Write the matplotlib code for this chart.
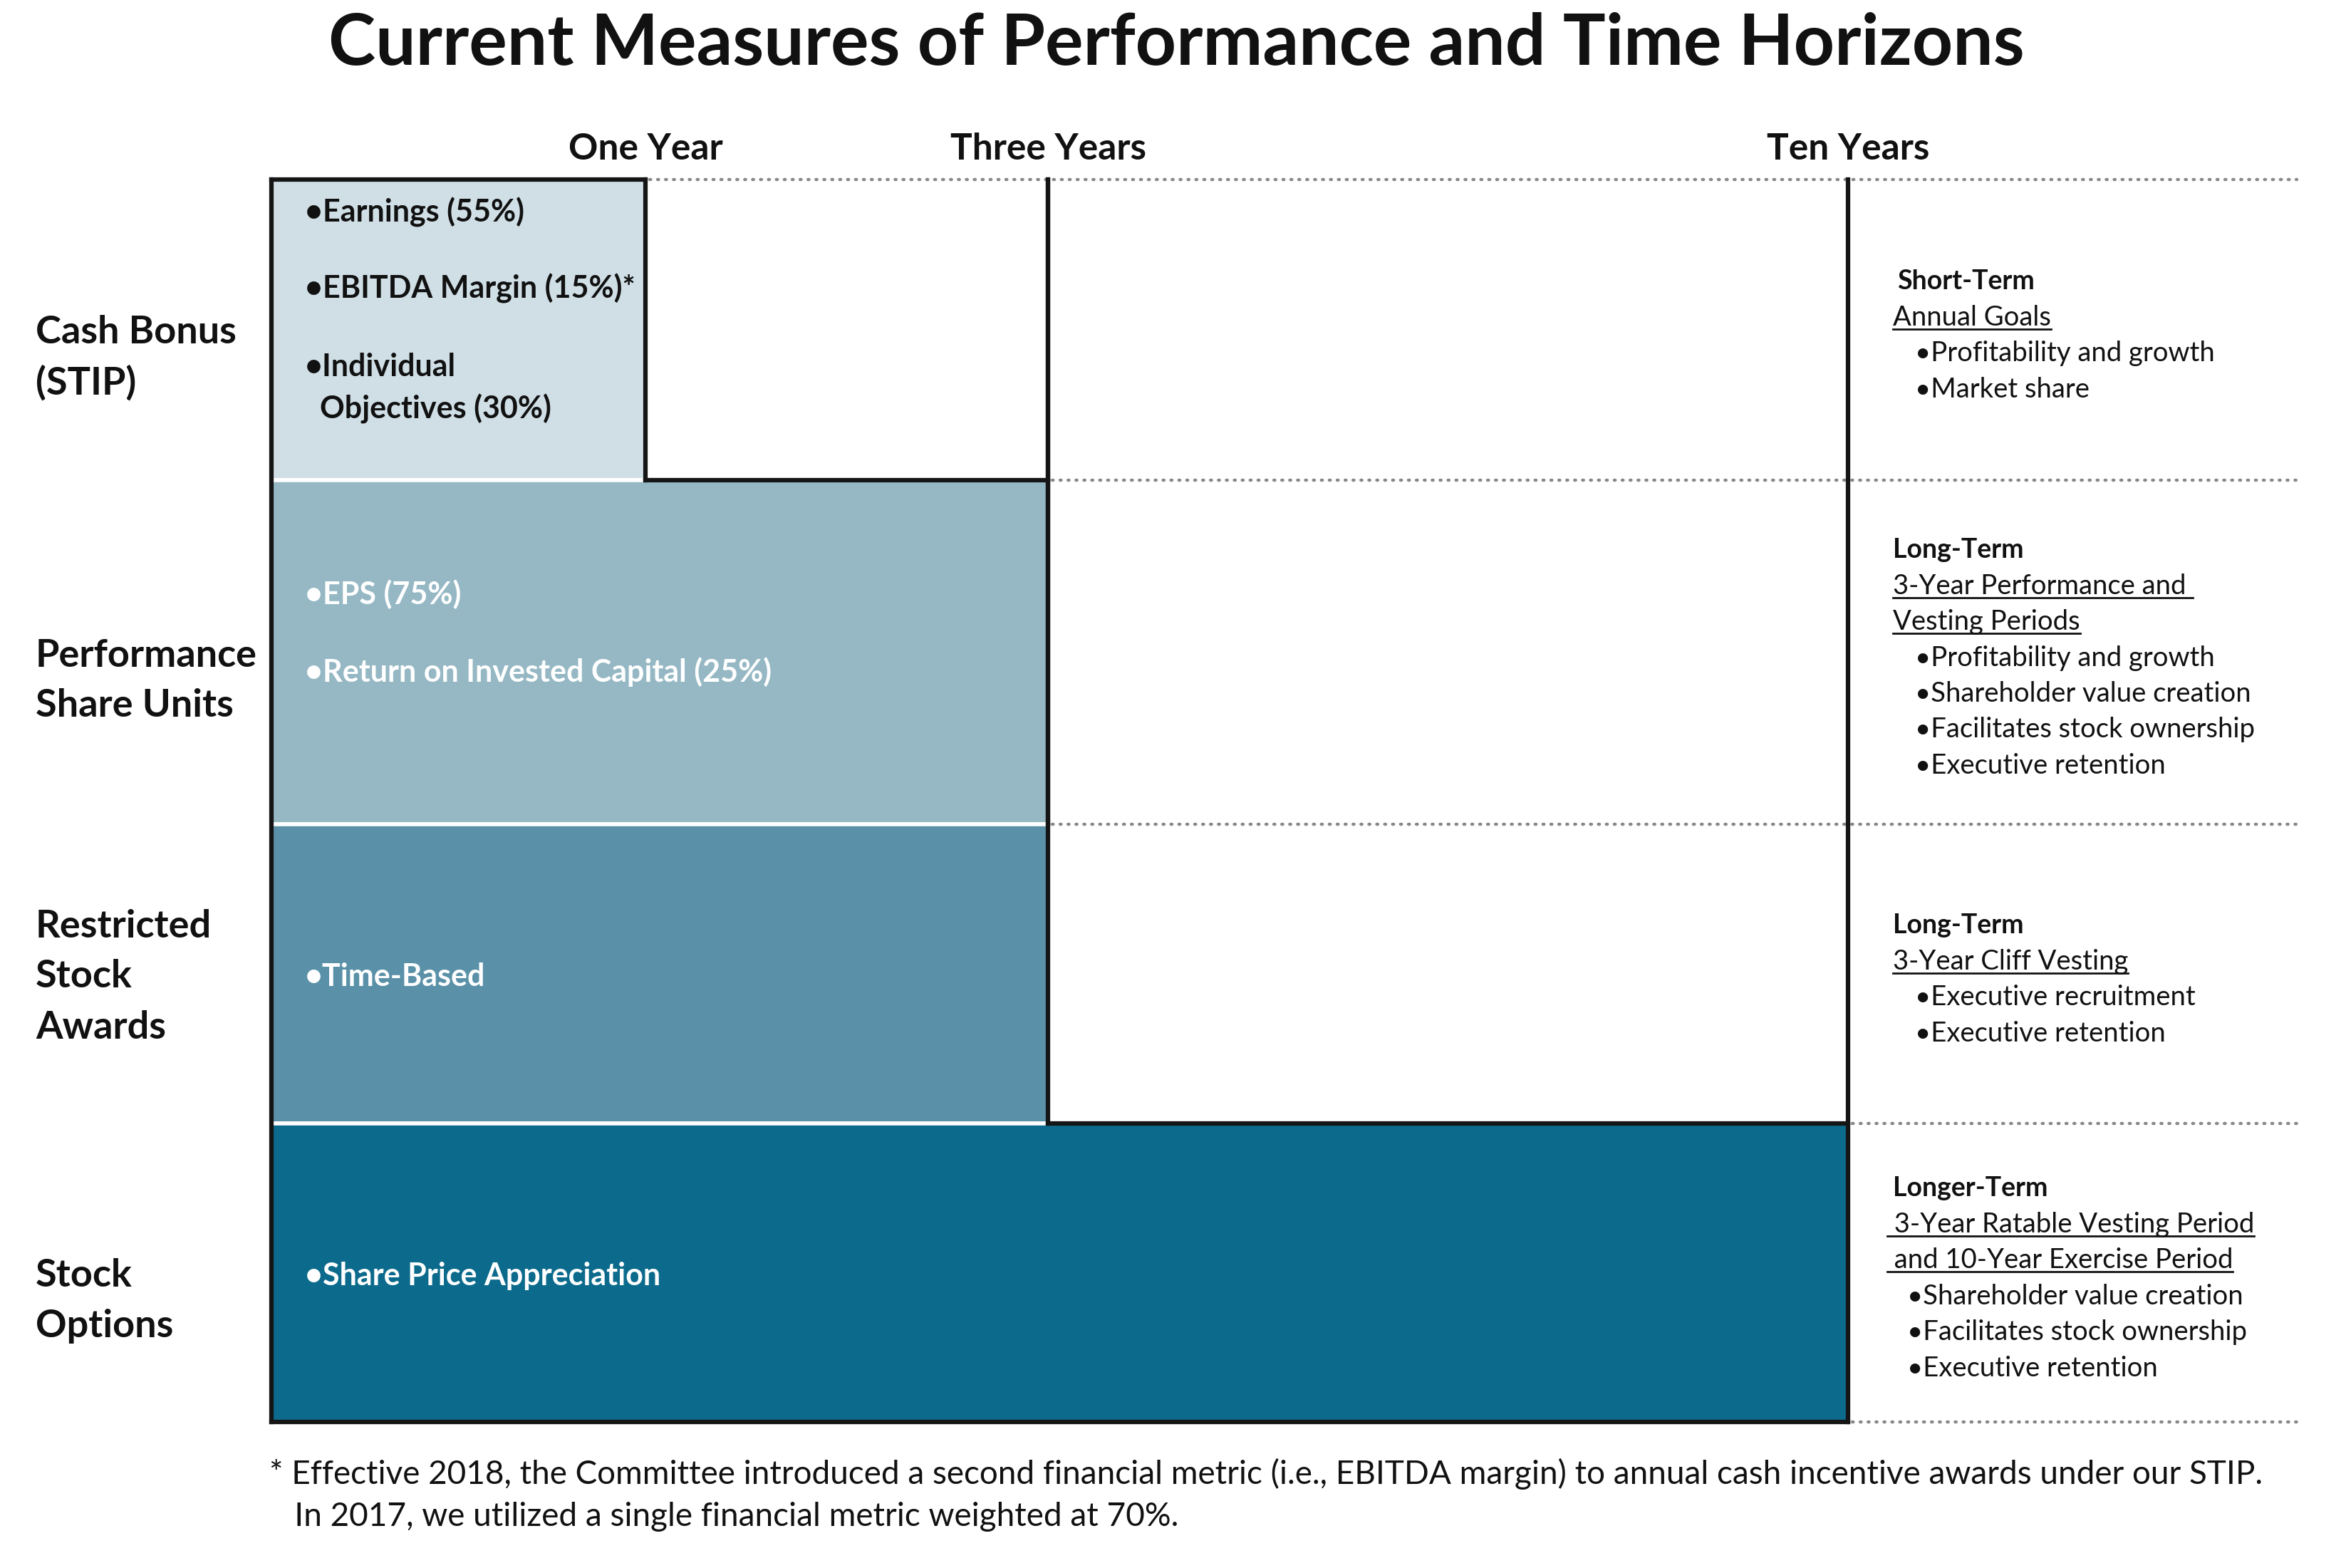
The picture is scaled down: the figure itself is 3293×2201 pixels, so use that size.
import matplotlib
matplotlib.use('Agg')
import matplotlib.pyplot as plt

# ---- data ----
title = "Current Measures of Performance and Time Horizons"
horizons = ['One Year', 'Three Years', 'Ten Years']
awards = ['Cash Bonus\n(STIP)', 'Performance\nShare Units',
          'Restricted\nStock\nAwards', 'Stock\nOptions']
award_end = [1, 2, 2, 3]          # horizon reached by each award (index into column edges)
award_colors = ['#d0dfe6', '#95b8c4', '#5a91a8', '#0c6b8c']
award_text_colors = ['#111111', 'white', 'white', 'white']
measures = [
    ['\u2022Earnings (55%)', '\u2022EBITDA Margin (15%)*', '\u2022Individual', '  Objectives (30%)'],
    ['\u2022EPS (75%)', '\u2022Return on Invested Capital (25%)'],
    ['\u2022Time-Based'],
    ['\u2022Share Price Appreciation'],
]
term_heads = ['Short-Term', 'Long-Term', 'Long-Term', 'Longer-Term']
term_periods = [
    ['Annual Goals'],
    ['3-Year Performance and ', 'Vesting Periods'],
    ['3-Year Cliff Vesting'],
    [' 3-Year Ratable Vesting Period', ' and 10-Year Exercise Period'],
]
term_bullets = [
    ['Profitability and growth', 'Market share'],
    ['Profitability and growth', 'Shareholder value creation',
     'Facilitates stock ownership', 'Executive retention'],
    ['Executive recruitment', 'Executive retention'],
    ['Shareholder value creation', 'Facilitates stock ownership', 'Executive retention'],
]
footnote = ["* Effective 2018, the Committee introduced a second financial metric (i.e., EBITDA margin) "
            "to annual cash incentive awards under our STIP.",
            "   In 2017, we utilized a single financial metric weighted at 70%."]

# ---- layout (pixels) ----
W, H = 3293, 2201
col_x = [381, 906, 1471, 2594]
right_x = 3224
row_y = [252, 674, 1157, 1577, 1996]
measure_y = [[298, 405, 515, 574], [834, 943], [1371], [1791]]
measure_x = 428
label_x = 50
label_y = [466, 920, 1300, 1791]
label_step = 71
side_x = 2657
side_step = 50.5
bullet_x = [2688, 2688, 2688, 2677]

plt.rcParams['font.family'] = ['Lato', 'DejaVu Sans']
fig = plt.figure(figsize=(W / 100, H / 100), dpi=100)
ax = fig.add_axes([0, 0, 1, 1])
ax.set_xlim(0, W)
ax.set_ylim(H, 0)
ax.axis('off')

ax.text(W / 2 + 5, 63, title, ha='center', va='center', fontsize=72, fontweight='bold', color='#111111')

for i, h in enumerate(horizons):
    ax.text(col_x[i + 1], 210, h, ha='center', va='center', fontsize=37, fontweight='bold', color='#111111')

# shaded award bars
centers = [(row_y[i] + row_y[i + 1]) / 2 for i in range(len(awards))]
heights = [row_y[i + 1] - row_y[i] for i in range(len(awards))]
widths = [col_x[e] - col_x[0] for e in award_end]
ax.barh(centers, widths, height=heights, left=col_x[0], color=award_colors,
        edgecolor='white', linewidth=4, zorder=1)

# black staircase outline
lk = dict(color='#151515', lw=4.5, solid_capstyle='projecting', zorder=3)
n = len(awards)
ax.plot([col_x[0], col_x[0]], [row_y[0], row_y[-1]], **lk)
ax.plot([col_x[0], col_x[award_end[0]]], [row_y[0], row_y[0]], **lk)
ax.plot([col_x[0], col_x[award_end[-1]]], [row_y[-1], row_y[-1]], **lk)
for i, e in enumerate(award_end):
    ax.plot([col_x[e], col_x[e]], [row_y[0], row_y[i + 1]], **lk)
    if i + 1 < n and award_end[i + 1] != e:
        ax.plot([col_x[e], col_x[award_end[i + 1]]], [row_y[i + 1], row_y[i + 1]], **lk)

# dotted guides
for k in range(n + 1):
    neigh = [award_end[j] for j in (k - 1, k) if 0 <= j < n]
    x0 = col_x[max(neigh)]
    ax.plot([x0 + 6, right_x], [row_y[k], row_y[k]], color='#888888', lw=3.2,
            linestyle=(0, (0.3, 2.2)), dash_capstyle='round', zorder=2)

# row labels
for i, lab in enumerate(awards):
    for j, ln in enumerate(lab.split('\n')):
        ax.text(label_x, label_y[i] + j * label_step, ln, ha='left', va='center',
                fontsize=39, fontweight='bold', color='#111111')

# measures in bars
for i, items in enumerate(measures):
    for t, y in zip(items, measure_y[i]):
        ax.text(measure_x, y, t, ha='left', va='center', fontsize=31, fontweight='bold',
                color=award_text_colors[i], zorder=4)

# side descriptions
underlined = []
for i in range(n):
    lines = [('h', term_heads[i])] + [('u', t) for t in term_periods[i]] + [('b', t) for t in term_bullets[i]]
    c = centers[i] + 8
    for j, (kind, t) in enumerate(lines):
        y = c + (j - (len(lines) - 1) / 2) * side_step + 11
        if kind == 'h':
            ax.text(side_x + (6 if i == 0 else 0), y, t, ha='left', va='baseline', fontsize=27,
                    fontweight='bold', color='#111111')
        elif kind == 'u':
            txt = ax.text(side_x - (8 if i == 3 else 0), y, t, ha='left', va='baseline', fontsize=27.5,
                          color='#111111')
            underlined.append((txt, y))
        else:
            ax.text(bullet_x[i], y, '\u2022' + t, ha='left', va='baseline', fontsize=27.5, color='#111111')

fig.canvas.draw()
r = fig.canvas.get_renderer()
inv = ax.transData.inverted()
for txt, y in underlined:
    bb = txt.get_window_extent(r)
    (x0, _), (x1, _) = inv.transform([[bb.x0, bb.y0], [bb.x1, bb.y1]])
    ax.plot([x0, x1], [y + 5, y + 5], color='#111111', lw=2)

for j, ln in enumerate(footnote):
    ax.text(378, 2069 + j * 60, ln, ha='left', va='center', fontsize=33, color='#111111')

fig.savefig('out.png', dpi=100, facecolor='white')
